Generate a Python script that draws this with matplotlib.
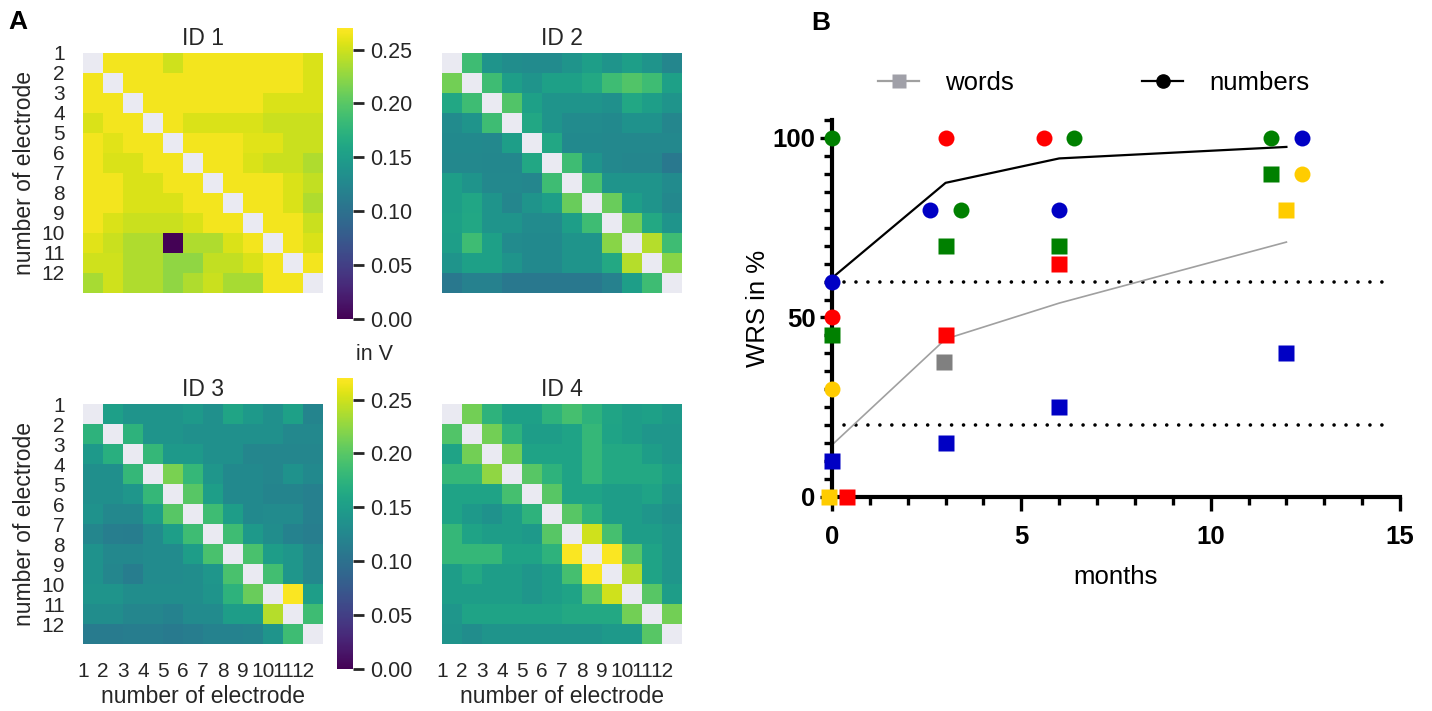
import numpy as np
import matplotlib.pyplot as plt
from matplotlib.lines import Line2D
from matplotlib.ticker import MultipleLocator

plt.rcParams['font.family'] = ['Liberation Sans', 'DejaVu Sans']

N = None
ids = ["ID 1", "ID 2", "ID 3", "ID 4"]
electrodes = [str(i) for i in range(1, 13)]

id1 = [
    [N, .265, .265, .265, .25, .265, .265, .265, .265, .265, .265, .255],
    [.265, N, .265, .265, .265, .265, .265, .265, .265, .265, .265, .255],
    [.265, .265, N, .265, .265, .265, .265, .265, .265, .255, .255, .255],
    [.255, .265, .265, N, .265, .255, .255, .255, .255, .248, .248, .248],
    [.265, .258, .265, .265, N, .265, .265, .265, .258, .258, .248, .248],
    [.265, .255, .255, .265, .265, N, .265, .265, .255, .248, .248, .238],
    [.265, .265, .255, .255, .265, .265, N, .265, .265, .265, .255, .245],
    [.265, .265, .255, .255, .255, .265, .265, N, .265, .265, .255, .238],
    [.265, .255, .248, .248, .248, .255, .265, .265, N, .265, .265, .248],
    [.258, .248, .238, .238, .002, .238, .238, .255, .265, N, .265, .255],
    [.25, .25, .238, .238, .225, .225, .245, .245, .255, .265, N, .265],
    [.235, .25, .238, .238, .225, .238, .248, .235, .235, .265, .265, N],
]
id2 = [
    [N, .186, .14, .132, .13, .13, .14, .151, .14, .151, .14, .124],
    [.213, N, .186, .151, .14, .153, .153, .163, .186, .197, .186, .153],
    [.162, .186, N, .197, .153, .14, .14, .14, .135, .162, .151, .14],
    [.13, .14, .186, N, .162, .14, .13, .13, .128, .138, .138, .124],
    [.128, .128, .126, .151, N, .162, .128, .128, .126, .126, .126, .126],
    [.126, .126, .125, .125, .162, N, .186, .14, .126, .124, .124, .108],
    [.151, .14, .126, .126, .124, .186, N, .192, .14, .14, .14, .13],
    [.151, .16, .14, .124, .14, .151, .208, N, .208, .151, .14, .126],
    [.153, .162, .14, .14, .13, .13, .151, .186, N, .213, .163, .14],
    [.151, .186, .153, .13, .128, .128, .14, .14, .222, N, .24, .186],
    [.14, .153, .153, .14, .128, .128, .14, .14, .163, .24, N, .222],
    [.108, .119, .119, .108, .108, .108, .108, .108, .119, .151, .186, N],
]
id3 = [
    [N, .152, .14, .14, .14, .145, .135, .158, .145, .135, .153, .122],
    [.175, N, .175, .14, .14, .135, .135, .135, .135, .135, .126, .126],
    [.145, .17, N, .18, .145, .145, .135, .135, .124, .124, .124, .124],
    [.134, .134, .18, N, .216, .18, .142, .128, .128, .124, .138, .128],
    [.134, .134, .142, .18, N, .2, .151, .128, .128, .122, .122, .118],
    [.138, .126, .126, .15, .2, N, .186, .15, .128, .13, .13, .118],
    [.124, .116, .114, .13, .151, .186, N, .186, .145, .132, .12, .116],
    [.138, .126, .126, .13, .13, .15, .192, N, .192, .15, .142, .126],
    [.138, .124, .114, .13, .13, .132, .142, .192, N, .188, .142, .126],
    [.14, .14, .132, .132, .132, .132, .14, .175, .208, N, .268, .151],
    [.132, .132, .124, .124, .12, .13, .13, .15, .15, .24, N, .186],
    [.112, .112, .114, .114, .11, .114, .12, .12, .122, .14, .186, N],
]
id4 = [
    [N, .213, .175, .153, .153, .175, .19, .175, .158, .15, .153, .145],
    [.197, N, .213, .175, .15, .15, .157, .18, .157, .15, .142, .142],
    [.157, .213, N, .213, .157, .157, .157, .18, .163, .163, .15, .142],
    [.18, .18, .225, N, .2, .175, .157, .18, .163, .163, .163, .151],
    [.157, .157, .157, .19, N, .2, .157, .157, .15, .15, .157, .142],
    [.157, .145, .138, .15, .175, N, .2, .175, .15, .15, .142, .135],
    [.18, .157, .15, .15, .145, .2, N, .25, .19, .15, .15, .142],
    [.18, .18, .18, .157, .157, .175, .268, N, .268, .2, .157, .142],
    [.15, .163, .15, .15, .142, .15, .19, .268, N, .24, .157, .142],
    [.15, .15, .15, .15, .142, .15, .157, .2, .25, N, .2, .15],
    [.142, .157, .157, .157, .157, .157, .163, .163, .163, .213, N, .213],
    [.14, .132, .14, .14, .14, .14, .14, .14, .145, .145, .2, N],
]
matrices = [id1, id2, id3, id4]
cbar_ticks = [0.0, 0.05, 0.10, 0.15, 0.20, 0.25]

# panel B: WRS in % over months, one colour per patient
circ_x = [0, 3, 5.6, 6.4, 11.6, 12.4, 12.4, 2.6, 3.4, 6, 0, 0, 0]
circ_y = [100, 100, 100, 100, 100, 100, 90, 80, 80, 80, 60, 50, 30]
circ_c = ["green", "red", "red", "green", "green", "blue", "yellow",
          "blue", "green", "blue", "blue", "red", "yellow"]
sq_x = [11.6, 12, 3, 6, 6, 0, 3, 2.95, 12, 6, 3, 0, -0.08, 0.4]
sq_y = [90, 80, 70, 70, 65, 45, 45, 37.5, 40, 25, 15, 10, 0, 0]
sq_c = ["green", "yellow", "green", "green", "red", "green", "red", "gray",
        "blue", "blue", "blue", "blue", "yellow", "red"]
mean_x = [0, 3, 6, 12]
numbers_mean = [61, 87.5, 94.3, 97.5]
words_mean = [14.5, 44, 54, 71]
thresholds = [60, 20]

palette = {"green": "#008000", "red": "#ff0000", "blue": "#0000c4",
           "yellow": "#ffcc00", "gray": "#808080"}
W, H = 1432, 711


def px_axes(fig, x0, y0, x1, y1):
    return fig.add_axes([x0 / W, 1 - y1 / H, (x1 - x0) / W, (y1 - y0) / H])


def heatmaps(fig):
    boxes = [(83, 53), (442, 53), (83, 404), (442, 404)]
    ink = "#262626"
    for k, (x0, y0) in enumerate(boxes):
        ax = px_axes(fig, x0, y0, x0 + 240, y0 + 240)
        ax.set_facecolor("#eaeaf2")
        m = np.array(matrices[k], dtype=float)
        im = ax.imshow(m, cmap="viridis", vmin=0, vmax=0.27, extent=(0, 12, 12, 0),
                       aspect="auto", interpolation="nearest")
        for s in ax.spines.values():
            s.set_visible(False)
        ax.set_title(ids[k], fontsize=16.5, color=ink, pad=6)
        ax.tick_params(length=0, labelsize=15, labelcolor=ink)
        ax.tick_params(axis="y", pad=13)
        ax.tick_params(axis="x", pad=13)
        if k in (0, 2):
            ax.set_yticks(range(12))
            ax.set_yticklabels(electrodes)
            ax.set_ylabel("number of electrode", fontsize=16.5, color=ink, labelpad=4)
        else:
            ax.set_yticks([])
        if k in (2, 3):
            ax.set_xticks(range(12))
            ax.set_xticklabels(electrodes)
            ax.set_xlabel("number of electrode", fontsize=16.5, color=ink, labelpad=3)
        else:
            ax.set_xticks([])

        if k in (0, 2):
            cy0 = 28 if k == 0 else 378
            cax = px_axes(fig, 337, cy0, 352.5, cy0 + 291)
            cb = fig.colorbar(im, cax=cax, ticks=cbar_ticks)
            cb.outline.set_visible(False)
            cb.ax.set_yticklabels([f"{t:.2f}" for t in cbar_ticks])
            cb.ax.tick_params(length=8, width=2, color=ink, labelsize=15.5,
                              labelcolor=ink, pad=5)
    fig.text(375 / W, 1 - 355 / H, "in V", fontsize=15.5, color=ink,
             ha="center", va="center")


def wrs(fig):
    ax = px_axes(fig, 832, 120, 1400, 497)
    ax.set_xlim(0, 15)
    ax.set_ylim(0, 105)
    for s in ("top", "right"):
        ax.spines[s].set_visible(False)
    for s in ("left", "bottom"):
        ax.spines[s].set_linewidth(3)

    for y in thresholds:
        ax.plot([0.33, 14.75], [y, y], color="black", lw=2.6,
                linestyle=(0, (0.01, 3.3)), dash_capstyle="round")
    ax.plot(mean_x, words_mean, color="#a0a0a0", lw=1.2)
    ax.plot(mean_x, numbers_mean, color="black", lw=1.6)

    for x, y, c in zip(sq_x, sq_y, sq_c):
        ax.plot(x, y, "s", ms=11.5, color=palette[c], mec="none",
                clip_on=False, zorder=5)
    for x, y, c in zip(circ_x, circ_y, circ_c):
        ax.plot(x, y, "o", ms=11.5, color=palette[c], mec="none",
                clip_on=False, zorder=5)

    ax.xaxis.set_major_locator(MultipleLocator(5))
    ax.xaxis.set_minor_locator(MultipleLocator(1))
    ax.yaxis.set_major_locator(MultipleLocator(50))
    ax.yaxis.set_minor_locator(MultipleLocator(5))
    ax.tick_params(which="major", width=2.4, labelsize=18.5)
    ax.tick_params(which="minor", width=2.4)
    ax.tick_params(axis="x", which="major", length=10, pad=10)
    ax.tick_params(axis="x", which="minor", length=5.5)
    ax.tick_params(axis="y", which="major", length=9, pad=3)
    ax.tick_params(axis="y", which="minor", length=6)
    for lab in ax.get_xticklabels() + ax.get_yticklabels():
        lab.set_fontweight("bold")
    ax.set_xlabel("months", fontsize=18.5, labelpad=12)
    ax.set_ylabel("WRS in %", fontsize=18.5, labelpad=2)

    handles = [
        Line2D([], [], color="#a0a0a0", lw=1.6, marker="s", ms=9.5,
               mfc="#a0a0a8", mec="none"),
        Line2D([], [], color="black", lw=1.6, marker="o", ms=9.5),
    ]
    fig.legend(handles, ["words", "numbers"], ncol=2, frameon=False,
               loc="center left", bbox_to_anchor=(878 / W, 1 - 83 / H),
               fontsize=18.5, handlelength=1.6, handletextpad=1.0,
               columnspacing=5.0, borderpad=0, borderaxespad=0)


def main():
    fig = plt.figure(figsize=(W / 100, H / 100), dpi=100)
    heatmaps(fig)
    wrs(fig)
    fig.text(8 / W, 1 - 22 / H, "A", fontsize=19, fontweight="bold", va="center")
    fig.text(811 / W, 1 - 23 / H, "B", fontsize=19, fontweight="bold", va="center")
    fig.savefig("out.png", dpi=100)


if __name__ == "__main__":
    main()
